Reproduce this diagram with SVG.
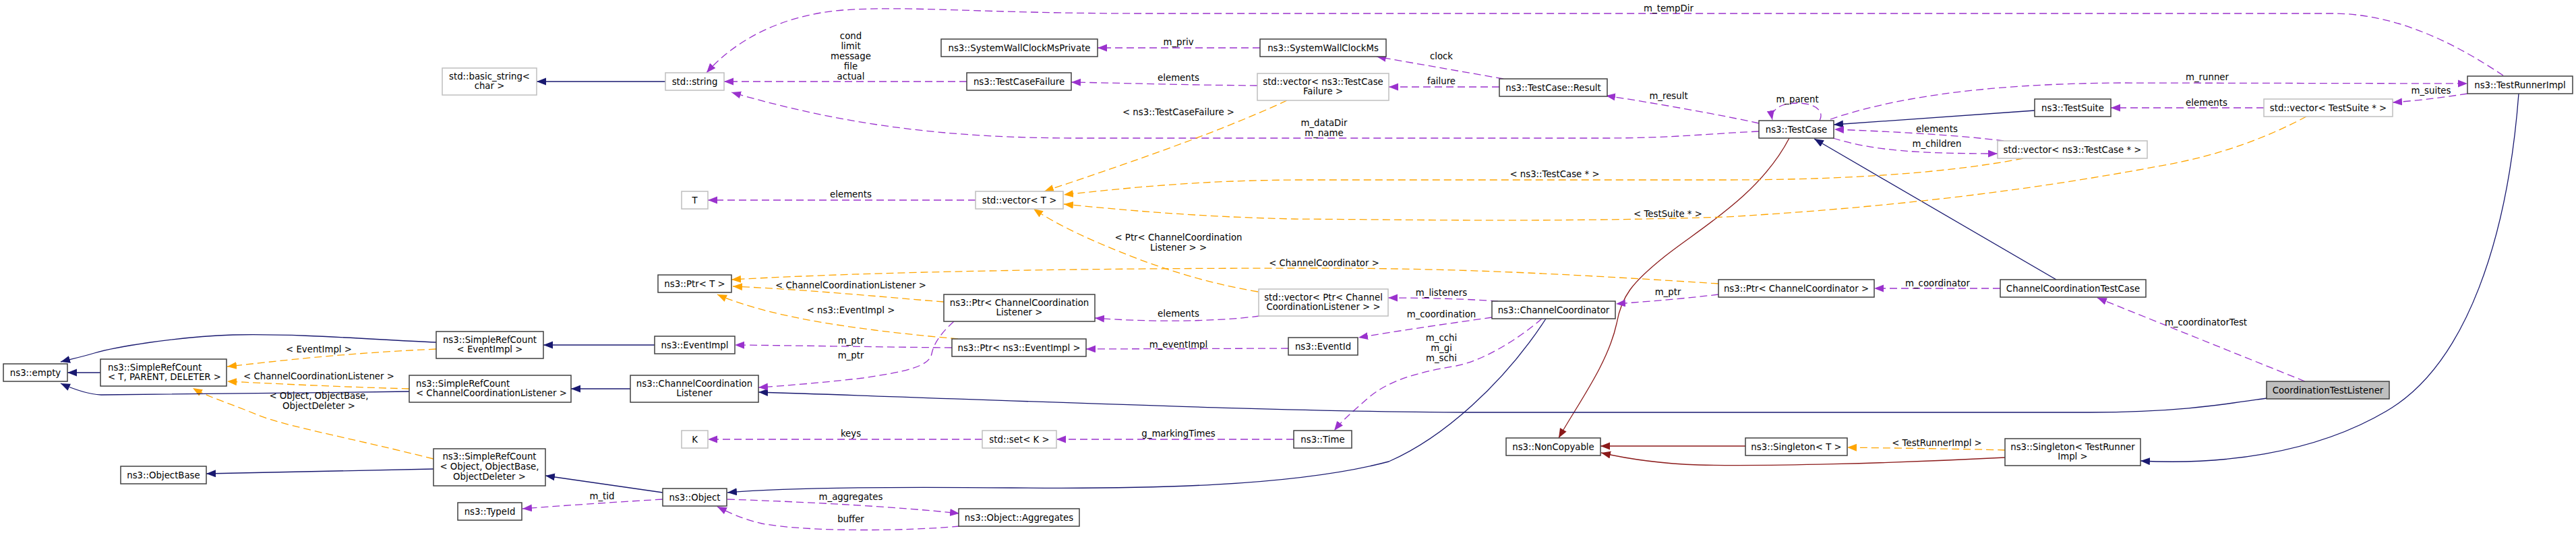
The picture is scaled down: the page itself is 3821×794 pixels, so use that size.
<svg xmlns="http://www.w3.org/2000/svg" width="3821" height="794" viewBox="0 0 3821 794">
<style>
text{font-family:"DejaVu Sans","Liberation Sans",sans-serif;font-size:13.3px;fill:#000}
.n rect{fill:#fff;stroke:#404040;stroke-width:1.5}
.g rect{fill:#fff;stroke:#bfbfbf;stroke-width:1.5}
.h rect{fill:#bfbfbf;stroke:#404040;stroke-width:1.5}
.c{text-anchor:middle}
#edges path{fill:none;stroke-width:1.3}
.inh{stroke:#191970;marker-end:url(#aB)}
.prv{stroke:#8b1a1a;marker-end:url(#aR)}
.use{stroke:#9a32cd;stroke-dasharray:11,6;marker-end:url(#aP)}
.tpl{stroke:#ffa500;stroke-dasharray:11,6;marker-end:url(#aO)}
</style>
<defs>
<marker id="aB" markerUnits="userSpaceOnUse" markerWidth="15" markerHeight="12" refX="14" refY="5.5" orient="auto"><path d="M0,0L14,5.5L0,11z" fill="#191970"/></marker>
<marker id="aR" markerUnits="userSpaceOnUse" markerWidth="15" markerHeight="12" refX="14" refY="5.5" orient="auto"><path d="M0,0L14,5.5L0,11z" fill="#8b1a1a"/></marker>
<marker id="aP" markerUnits="userSpaceOnUse" markerWidth="15" markerHeight="12" refX="14" refY="5.5" orient="auto"><path d="M0,0L14,5.5L0,11z" fill="#9a32cd"/></marker>
<marker id="aO" markerUnits="userSpaceOnUse" markerWidth="15" markerHeight="12" refX="14" refY="5.5" orient="auto"><path d="M0,0L14,5.5L0,11z" fill="#ffa500"/></marker>
</defs>
<rect width="3821" height="794" fill="#fff"/>
<g id="edges">
<path class="inh" d="M987,121L796,121"/>
<path class="use" d="M3713,112C3650,70 3560,20 3460,20L1700,20C1450,20 1350,8 1250,15C1160,22 1090,60 1048,108"/>
<path class="use" d="M1434,121L1074,121"/>
<path class="use" d="M2609,195C2540,198 2480,205 2380,205L1600,205C1400,205 1250,185 1085,137"/>
<path class="use" d="M1869,71L1628,71"/>
<path class="use" d="M2230,117L2042,84"/>
<path class="use" d="M2224,129L2060,129"/>
<path class="use" d="M1865,127C1750,126 1700,124 1589,122"/>
<path class="use" d="M2609,183C2560,172 2450,152 2382,142"/>
<path class="use" d="M2699,179C2707,163 2690,153 2666,153C2640,153 2626,163 2629,178"/>
<path class="inh" d="M3018,164L2720,185"/>
<path class="use" d="M2972,209C2900,200 2800,195 2721,192"/>
<path class="use" d="M2719,205C2780,224 2850,228 2963,228"/>
<path class="use" d="M2715,177C2800,148 2930,124 3150,123L3660,124"/>
<path class="use" d="M3660,139C3620,145 3590,149 3549,152"/>
<path class="use" d="M3358,160L3131,160"/>
<path class="prv" d="M2654,205C2610,290 2520,340 2470,380C2420,420 2405,440 2398,480C2385,540 2340,600 2312,650"/>
<path class="prv" d="M2589,662L2374,662"/>
<path class="prv" d="M2974,679C2800,688 2620,692 2520,690C2460,688 2410,680 2375,672"/>
<path class="tpl" d="M2974,668C2900,666 2800,665 2740,664"/>
<path class="inh" d="M3736,139C3720,350 3660,540 3540,610C3430,675 3290,690 3175,684"/>
<path class="use" d="M3419,566L3111,442"/>
<path class="inh" d="M3050,415L2691,206"/>
<path class="use" d="M2967,428L2780,428"/>
<path class="tpl" d="M2549,421C2300,405 2150,398 1950,398C1600,398 1300,403 1085,415"/>
<path class="use" d="M2549,437C2500,443 2450,447 2397,451"/>
<path class="use" d="M2222,447C2180,444 2120,442 2059,442"/>
<path class="use" d="M2213,471C2150,480 2080,490 2015,501"/>
<path class="use" d="M2287,473C2250,505 2200,535 2160,543C2100,553 2060,565 2030,590C2005,612 1990,625 1979,639"/>
<path class="inh" d="M2293,473C2230,570 2140,650 2060,685C1920,722 1700,726 1500,724C1300,722 1150,725 1079,731"/>
<path class="inh" d="M3362,591C3300,600 3230,612 3100,612L2200,612C1900,612 1450,592 1125,582"/>
<path class="use" d="M1415,477C1395,495 1385,510 1382,525C1378,545 1340,552 1280,561C1220,568 1170,572 1125,575"/>
<path class="use" d="M1412,516C1300,515 1200,513 1090,512"/>
<path class="use" d="M1911,517L1611,518"/>
<path class="use" d="M1868,469C1800,478 1700,478 1624,472"/>
<path class="tpl" d="M1400,448C1300,440 1200,430 1087,425"/>
<path class="tpl" d="M1421,503C1300,492 1150,475 1064,437"/>
<path class="tpl" d="M1866,433C1790,420 1730,400 1690,385C1620,358 1570,335 1533,310"/>
<path class="tpl" d="M1909,149C1800,200 1650,250 1549,284"/>
<path class="tpl" d="M3001,235C2900,255 2750,267 2560,267L1920,267C1780,268 1680,278 1578,289"/>
<path class="tpl" d="M3421,173C3370,200 3300,230 3200,247C3050,275 2850,305 2560,322C2300,330 2100,326 1920,325C1780,322 1670,312 1578,303"/>
<path class="use" d="M1447,297L1050,297"/>
<path class="use" d="M1457,652L1050,652"/>
<path class="use" d="M1919,652L1567,652"/>
<path class="use" d="M983,741C900,746 840,750 775,755"/>
<path class="use" d="M1079,741C1200,745 1330,752 1423,762"/>
<path class="use" d="M1423,781C1350,788 1200,790 1130,777C1100,770 1080,760 1064,752"/>
<path class="inh" d="M983,731L809,706"/>
<path class="inh" d="M643,696C500,698 400,701 306,703"/>
<path class="tpl" d="M643,681C520,650 420,632 380,615C340,598 310,590 286,576"/>
<path class="inh" d="M607,581C450,583 250,586 150,586C130,585 110,578 90,569"/>
<path class="inh" d="M647,508C550,504 450,495 345,497C260,500 170,515 140,524C120,530 105,533 90,537"/>
<path class="inh" d="M149,553L100,553"/>
<path class="tpl" d="M647,518C500,525 420,535 337,544"/>
<path class="tpl" d="M607,577C500,574 420,570 337,566"/>
<path class="inh" d="M971,512L806,512"/>
<path class="inh" d="M935,577L847,577"/>
<g class="c">
<text x="1262" y="58">cond</text><text x="1262" y="73">limit</text><text x="1262" y="88">message</text><text x="1262" y="103">file</text><text x="1262" y="118">actual</text>
<text x="1262" y="293">elements</text>
<text x="2475" y="17">m_tempDir</text>
<text x="1748" y="67">m_priv</text>
<text x="1748" y="120">elements</text>
<text x="1748" y="171">&lt; ns3::TestCaseFailure &gt;</text>
<text x="2138" y="88">clock</text>
<text x="2138" y="125">failure</text>
<text x="2475" y="147">m_result</text>
<text x="1964" y="187">m_dataDir</text><text x="1964" y="202">m_name</text>
<text x="2306" y="263">&lt; ns3::TestCase * &gt;</text>
<text x="2474" y="322">&lt; TestSuite * &gt;</text>
<text x="1748" y="357">&lt; Ptr&lt; ChannelCoordination</text><text x="1748" y="372">Listener &gt; &gt;</text>
<text x="1964" y="395">&lt; ChannelCoordinator &gt;</text>
<text x="2666" y="152">m_parent</text>
<text x="2873" y="196">elements</text>
<text x="2873" y="218">m_children</text>
<text x="3274" y="119">m_runner</text>
<text x="3606" y="139">m_suites</text>
<text x="3273" y="157">elements</text>
<text x="473" y="523">&lt; EventImpl &gt;</text>
<text x="473" y="563">&lt; ChannelCoordinationListener &gt;</text>
<text x="473" y="592">&lt; Object, ObjectBase,</text><text x="473" y="607">ObjectDeleter &gt;</text>
<text x="1262" y="428">&lt; ChannelCoordinationListener &gt;</text>
<text x="1262" y="465">&lt; ns3::EventImpl &gt;</text>
<text x="1262" y="510">m_ptr</text>
<text x="1262" y="532">m_ptr</text>
<text x="1262" y="648">keys</text>
<text x="893" y="741">m_tid</text>
<text x="1262" y="742">m_aggregates</text>
<text x="1262" y="775">buffer</text>
<text x="1748" y="470">elements</text>
<text x="1748" y="516">m_eventImpl</text>
<text x="1748" y="648">g_markingTimes</text>
<text x="2138" y="439">m_listeners</text>
<text x="2138" y="471">m_coordination</text>
<text x="2138" y="506">m_cchi</text><text x="2138" y="521">m_gi</text><text x="2138" y="536">m_schi</text>
<text x="2474" y="438">m_ptr</text>
<text x="2874" y="425">m_coordinator</text>
<text x="2873" y="662">&lt; TestRunnerImpl &gt;</text>
<text x="3272" y="483">m_coordinatorTest</text>
</g>
</g>
<g id="n_basic_string" class="g"><rect x="656" y="101" width="140" height="40"/><text class="c" x="726" y="118">std::basic_string&lt;</text><text class="c" x="726" y="132">char &gt;</text></g>
<g id="n_string" class="g"><rect x="987" y="108" width="87" height="26"/><text class="c" x="1030.5" y="126">std::string</text></g>
<g id="n_T" class="g"><rect x="1011" y="284" width="39" height="26"/><text class="c" x="1030.5" y="302">T</text></g>
<g id="n_swcmp" class="n"><rect x="1396" y="58" width="232" height="26"/><text class="c" x="1512" y="76">ns3::SystemWallClockMsPrivate</text></g>
<g id="n_swcm" class="n"><rect x="1869" y="58" width="187" height="26"/><text class="c" x="1962.5" y="76">ns3::SystemWallClockMs</text></g>
<g id="n_tcf" class="n"><rect x="1434" y="108" width="155" height="26"/><text class="c" x="1511.5" y="126">ns3::TestCaseFailure</text></g>
<g id="n_vec_tcf" class="g"><rect x="1865" y="109" width="195" height="40"/><text class="c" x="1962.5" y="126">std::vector&lt; ns3::TestCase</text><text class="c" x="1962.5" y="140">Failure &gt;</text></g>
<g id="n_vec_T" class="g"><rect x="1447" y="284" width="130" height="26"/><text class="c" x="1512" y="302">std::vector&lt; T &gt;</text></g>
<g id="n_result" class="n"><rect x="2224" y="117" width="160" height="26"/><text class="c" x="2304" y="135">ns3::TestCase::Result</text></g>
<g id="n_testcase" class="n"><rect x="2609" y="179" width="111" height="26"/><text class="c" x="2664.5" y="197">ns3::TestCase</text></g>
<g id="n_testsuite" class="n"><rect x="3018" y="147" width="113" height="26"/><text class="c" x="3074.5" y="165">ns3::TestSuite</text></g>
<g id="n_vec_tc" class="g"><rect x="2963" y="209" width="222" height="26"/><text class="c" x="3074" y="227">std::vector&lt; ns3::TestCase * &gt;</text></g>
<g id="n_runner" class="n"><rect x="3660" y="113" width="156" height="26"/><text class="c" x="3738" y="131">ns3::TestRunnerImpl</text></g>
<g id="n_vec_ts" class="g"><rect x="3358" y="147" width="191" height="26"/><text class="c" x="3453.5" y="165">std::vector&lt; TestSuite * &gt;</text></g>
<g id="n_empty" class="n"><rect x="5" y="540" width="95" height="26"/><text class="c" x="52.5" y="558">ns3::empty</text></g>
<g id="n_src_tpd" class="n"><rect x="149" y="533" width="187" height="40"/><text x="160" y="550">ns3::SimpleRefCount</text><text x="160" y="564">&lt; T, PARENT, DELETER &gt;</text></g>
<g id="n_objectbase" class="n"><rect x="179" y="692" width="127" height="26"/><text class="c" x="242.5" y="710">ns3::ObjectBase</text></g>
<g id="n_src_ccl" class="n"><rect x="607" y="557" width="240" height="40"/><text x="617" y="574">ns3::SimpleRefCount</text><text x="617" y="588">&lt; ChannelCoordinationListener &gt;</text></g>
<g id="n_ptr_T" class="n"><rect x="976" y="408" width="109" height="26"/><text class="c" x="1030.5" y="426">ns3::Ptr&lt; T &gt;</text></g>
<g id="n_src_ev" class="n"><rect x="647" y="492" width="159" height="40"/><text class="c" x="726.5" y="509">ns3::SimpleRefCount</text><text class="c" x="726.5" y="523">&lt; EventImpl &gt;</text></g>
<g id="n_eventimpl" class="n"><rect x="971" y="499" width="119" height="26"/><text class="c" x="1030.5" y="517">ns3::EventImpl</text></g>
<g id="n_ccl" class="n"><rect x="935" y="557" width="190" height="40"/><text class="c" x="1030" y="574">ns3::ChannelCoordination</text><text class="c" x="1030" y="588">Listener</text></g>
<g id="n_K" class="g"><rect x="1011" y="639" width="39" height="26"/><text class="c" x="1030.5" y="657">K</text></g>
<g id="n_src_obj" class="n"><rect x="643" y="666" width="166" height="55"/><text class="c" x="726" y="682">ns3::SimpleRefCount</text><text class="c" x="726" y="697">&lt; Object, ObjectBase,</text><text class="c" x="726" y="712">ObjectDeleter &gt;</text></g>
<g id="n_object" class="n"><rect x="983" y="725" width="95" height="26"/><text class="c" x="1030.5" y="743">ns3::Object</text></g>
<g id="n_typeid" class="n"><rect x="679" y="746" width="95" height="26"/><text class="c" x="726.5" y="764">ns3::TypeId</text></g>
<g id="n_ptr_ccl" class="n"><rect x="1400" y="437" width="224" height="40"/><text class="c" x="1512" y="454">ns3::Ptr&lt; ChannelCoordination</text><text class="c" x="1512" y="468">Listener &gt;</text></g>
<g id="n_vec_ptr_ccl" class="g"><rect x="1867" y="429" width="192" height="40"/><text class="c" x="1963" y="446">std::vector&lt; Ptr&lt; Channel</text><text class="c" x="1963" y="460">CoordinationListener &gt; &gt;</text></g>
<g id="n_ptr_ev" class="n"><rect x="1412" y="503" width="199" height="26"/><text class="c" x="1511.5" y="521">ns3::Ptr&lt; ns3::EventImpl &gt;</text></g>
<g id="n_eventid" class="n"><rect x="1911" y="501" width="103" height="26"/><text class="c" x="1962.5" y="519">ns3::EventId</text></g>
<g id="n_set_K" class="g"><rect x="1457" y="639" width="110" height="26"/><text class="c" x="1512" y="657">std::set&lt; K &gt;</text></g>
<g id="n_aggregates" class="n"><rect x="1422" y="755" width="179" height="26"/><text class="c" x="1511.5" y="773">ns3::Object::Aggregates</text></g>
<g id="n_time" class="n"><rect x="1919" y="639" width="86" height="26"/><text class="c" x="1962" y="657">ns3::Time</text></g>
<g id="n_cc" class="n"><rect x="2213" y="447" width="183" height="26"/><text class="c" x="2304.5" y="465">ns3::ChannelCoordinator</text></g>
<g id="n_noncopyable" class="n"><rect x="2234" y="650" width="140" height="26"/><text class="c" x="2304" y="668">ns3::NonCopyable</text></g>
<g id="n_ptr_cc" class="n"><rect x="2549" y="415" width="231" height="26"/><text class="c" x="2664.5" y="433">ns3::Ptr&lt; ChannelCoordinator &gt;</text></g>
<g id="n_cctc" class="n"><rect x="2967" y="415" width="216" height="26"/><text class="c" x="3075" y="433">ChannelCoordinationTestCase</text></g>
<g id="n_singleton_T" class="n"><rect x="2589" y="650" width="151" height="26"/><text class="c" x="2664.5" y="668">ns3::Singleton&lt; T &gt;</text></g>
<g id="n_singleton_tri" class="n"><rect x="2974" y="651" width="201" height="40"/><text class="c" x="3074.5" y="668">ns3::Singleton&lt; TestRunner</text><text class="c" x="3074.5" y="682">Impl &gt;</text></g>
<g id="n_ctl" class="h"><rect x="3362" y="566" width="182" height="26"/><text class="c" x="3453" y="584">CoordinationTestListener</text></g>
</svg>
